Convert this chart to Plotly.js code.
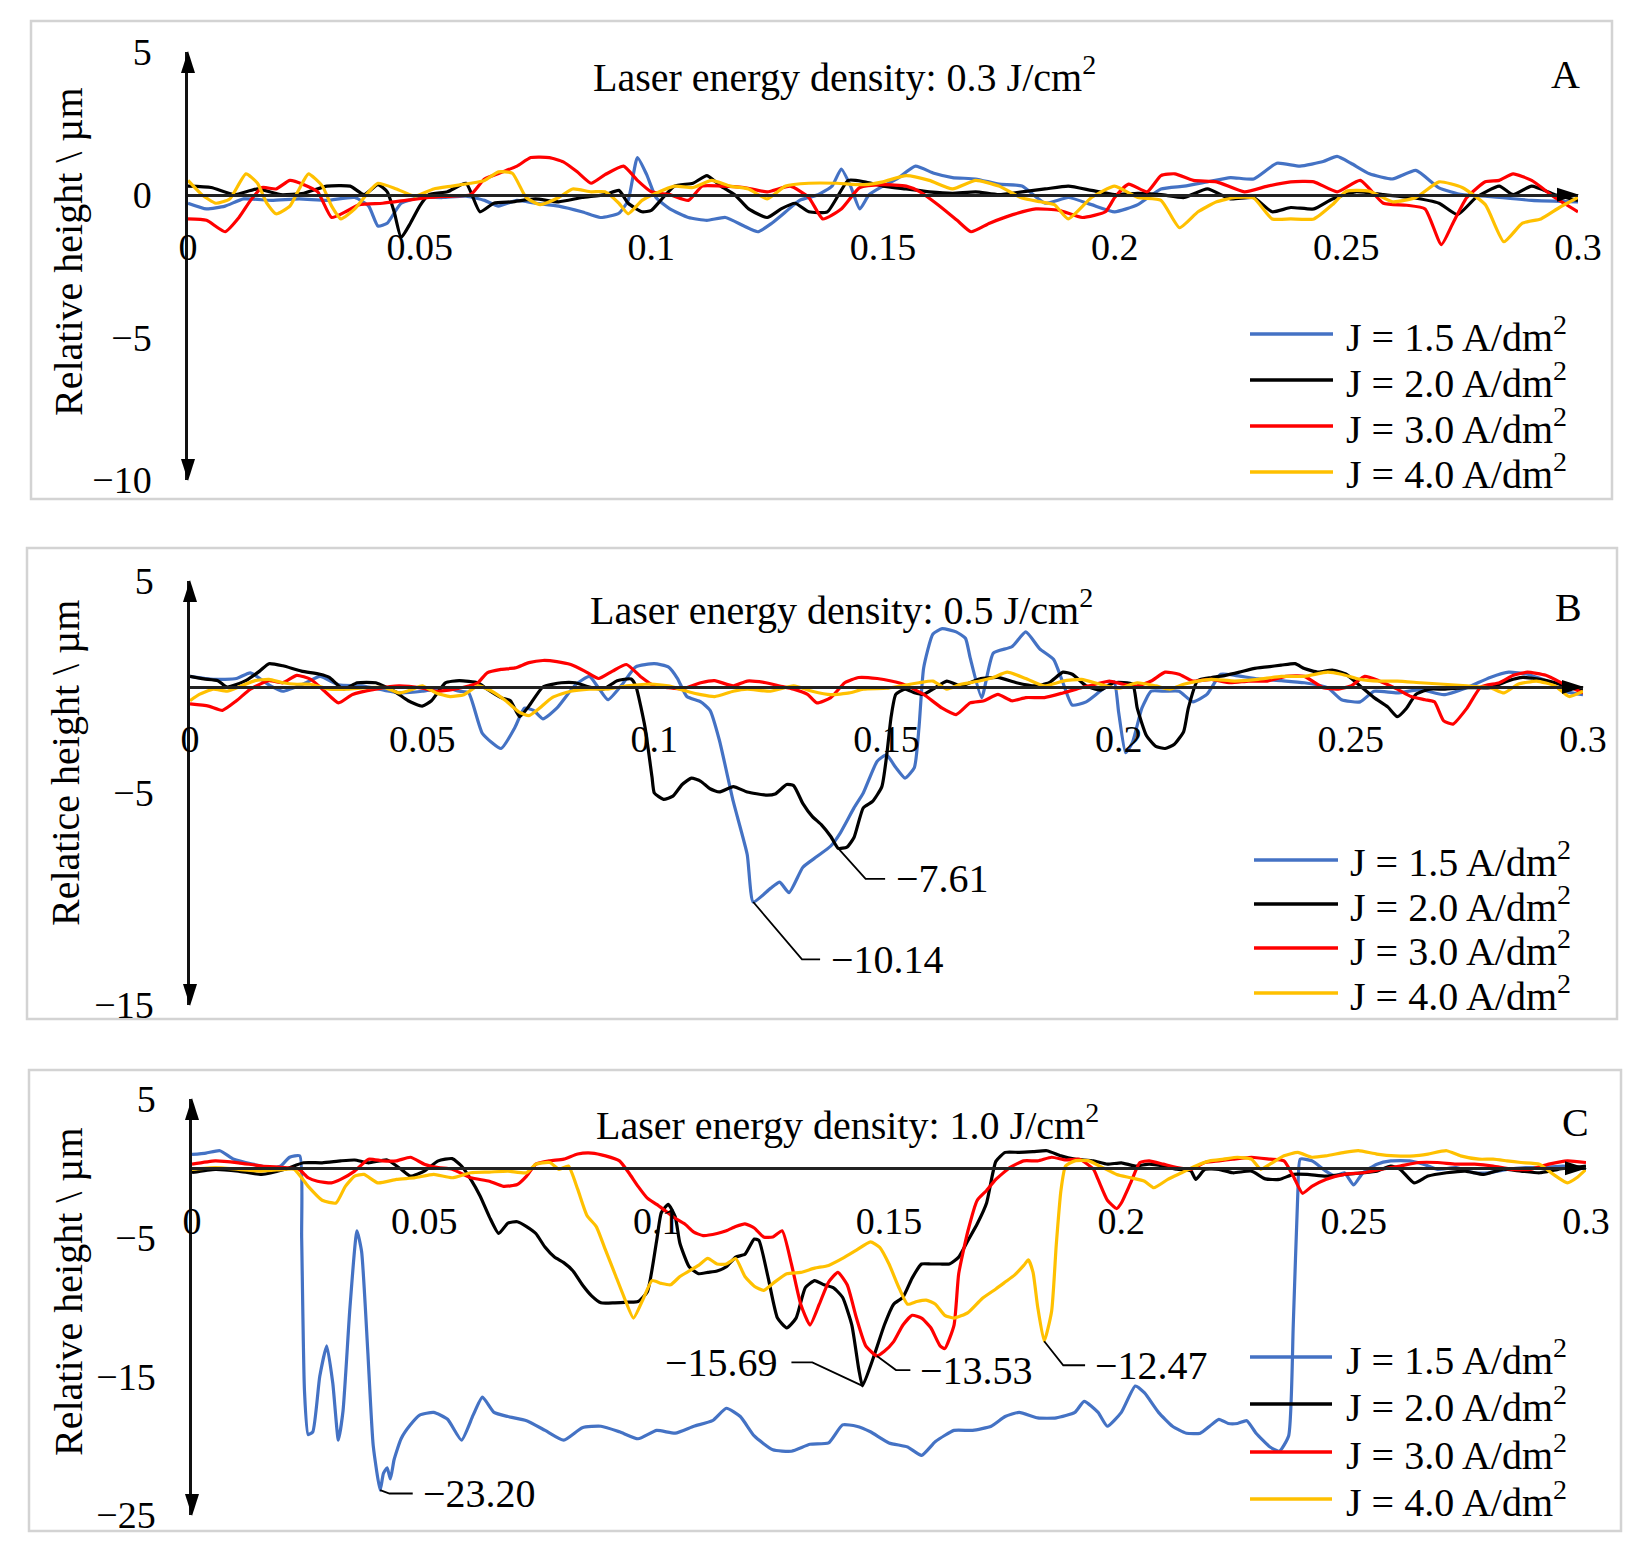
<!DOCTYPE html>
<html>
<head>
<meta charset="utf-8">
<script src="https://cdn.plot.ly/plotly-3.0.1.min.js"></script>
<style>html,body{margin:0;padding:0;background:#fff;}</style>
</head>
<body>
<div id="chart" style="width:1636px;height:1557px;"></div>
<script>
// ---------------- DATA (distance in mm, relative height in µm) ----------------
const seriesNames = ['J = 1.5 A/dm<sup>2</sup>','J = 2.0 A/dm<sup>2</sup>','J = 3.0 A/dm<sup>2</sup>','J = 4.0 A/dm<sup>2</sup>'];
const seriesColors = ['#4472C4','#000000','#FF0000','#FFC000'];
const panelTitles = ['Laser energy density: 0.3 J/cm<sup>2</sup>','Laser energy density: 0.5 J/cm<sup>2</sup>','Laser energy density: 1.0 J/cm<sup>2</sup>'];
const panelLetters = ['A','B','C'];
const yTitles = ['Relative height \\ µm','Relatice height \\ µm','Relative height \\ µm'];
const yRanges = [[-10,5],[-15,5],[-25,5]];
const yTickVals = [[5,0,-5,-10],[5,-5,-15],[5,-5,-15,-25]];
const xTickVals = [0,0.05,0.1,0.15,0.2,0.25,0.3];
const xTickText = ['0','0.05','0.1','0.15','0.2','0.25','0.3'];

// Panel A
const A15 = [[0,-0.3],[0.004,-0.5],[0.008,-0.4],[0.012,-0.15],[0.018,-0.2],[0.024,-0.15],[0.03,-0.2],[0.036,-0.1],[0.039,-0.4],[0.041,-1.1],[0.043,-1.0],[0.046,-0.3],[0.05,-0.1],[0.055,-0.1],[0.06,-0.05],[0.064,-0.2],[0.067,-0.4],[0.071,-0.2],[0.075,-0.3],[0.08,-0.4],[0.085,-0.6],[0.089,-0.8],[0.093,-0.65],[0.095,-0.2],[0.097,1.3],[0.099,0.7],[0.101,-0.1],[0.104,-0.5],[0.108,-0.8],[0.112,-0.9],[0.116,-0.8],[0.12,-1.1],[0.123,-1.3],[0.126,-1.0],[0.129,-0.6],[0.132,-0.2],[0.136,0.0],[0.139,0.3],[0.141,0.9],[0.143,0.3],[0.145,-0.5],[0.147,0.0],[0.15,0.3],[0.153,0.55],[0.157,1.0],[0.161,0.75],[0.165,0.6],[0.17,0.55],[0.175,0.37],[0.18,0.3],[0.185,-0.3],[0.19,-0.1],[0.195,-0.35],[0.2,-0.6],[0.205,-0.35],[0.21,0.2],[0.215,0.3],[0.22,0.45],[0.225,0.6],[0.23,0.55],[0.235,1.1],[0.24,1.0],[0.245,1.16],[0.248,1.34],[0.251,1.1],[0.255,0.73],[0.26,0.55],[0.265,0.85],[0.27,0.24],[0.275,0.0],[0.28,-0.05],[0.29,-0.2],[0.3,-0.25]];
const A20 = [[0,0.3],[0.005,0.25],[0.01,0.0],[0.015,0.2],[0.02,0.0],[0.025,0.05],[0.03,0.3],[0.035,0.3],[0.038,0.0],[0.041,0.35],[0.043,0.1],[0.0445,-0.6],[0.046,-1.5],[0.048,-1.0],[0.05,-0.4],[0.052,0.0],[0.056,0.1],[0.06,0.4],[0.063,-0.6],[0.066,-0.3],[0.07,-0.25],[0.075,-0.15],[0.08,-0.25],[0.085,-0.1],[0.09,0.0],[0.093,0.15],[0.095,-0.3],[0.098,-0.6],[0.1,-0.55],[0.102,-0.2],[0.105,0.3],[0.109,0.4],[0.112,0.67],[0.115,0.3],[0.118,0.0],[0.121,-0.5],[0.125,-0.8],[0.128,-0.5],[0.131,-0.3],[0.134,-0.6],[0.138,-0.6],[0.1425,0.5],[0.146,0.45],[0.15,0.3],[0.155,0.2],[0.16,0.1],[0.165,0.05],[0.17,0.1],[0.175,0.0],[0.18,0.1],[0.185,0.2],[0.19,0.3],[0.195,0.15],[0.2,0.0],[0.205,0.05],[0.21,0.0],[0.215,-0.1],[0.22,0.2],[0.225,-0.15],[0.23,-0.1],[0.234,-0.6],[0.238,-0.45],[0.243,-0.5],[0.247,-0.15],[0.252,0.1],[0.258,0.0],[0.264,-0.1],[0.27,-0.3],[0.274,-0.7],[0.278,-0.1],[0.283,0.3],[0.286,0.0],[0.29,0.3],[0.295,0.0],[0.3,-0.2]];
const A30 = [[0,-0.85],[0.004,-0.9],[0.008,-1.3],[0.011,-0.8],[0.0135,-0.2],[0.016,0.25],[0.019,0.2],[0.022,0.5],[0.025,0.35],[0.028,0.1],[0.031,-0.8],[0.034,-0.6],[0.037,-0.35],[0.042,-0.3],[0.047,-0.2],[0.052,-0.1],[0.057,-0.05],[0.061,0.0],[0.064,0.55],[0.068,0.8],[0.071,1.0],[0.074,1.3],[0.078,1.3],[0.081,1.15],[0.084,0.8],[0.087,0.4],[0.09,0.7],[0.094,1.0],[0.097,0.5],[0.1,0.1],[0.104,0.0],[0.108,-0.2],[0.111,0.3],[0.115,0.3],[0.12,0.25],[0.125,0.1],[0.13,0.3],[0.134,-0.1],[0.137,-0.85],[0.141,-0.5],[0.145,0.25],[0.15,0.35],[0.155,0.3],[0.158,0.1],[0.162,-0.37],[0.166,-0.9],[0.169,-1.3],[0.173,-1.0],[0.178,-0.7],[0.183,-0.5],[0.188,-0.55],[0.193,-0.8],[0.198,-0.6],[0.2,-0.1],[0.203,0.37],[0.207,0.1],[0.21,0.67],[0.213,0.73],[0.217,0.5],[0.222,0.45],[0.228,0.1],[0.233,0.3],[0.238,0.45],[0.243,0.45],[0.248,0.1],[0.253,0.5],[0.258,-0.3],[0.263,-0.37],[0.267,-0.5],[0.2705,-1.75],[0.273,-1.0],[0.276,-0.1],[0.28,0.45],[0.283,0.5],[0.286,0.73],[0.29,0.5],[0.295,-0.1],[0.3,-0.6]];
const A40 = [[0,0.5],[0.003,0.0],[0.006,-0.3],[0.009,-0.15],[0.0125,0.73],[0.015,0.4],[0.017,-0.3],[0.019,-0.67],[0.022,-0.4],[0.024,0.2],[0.026,0.73],[0.029,0.3],[0.031,-0.4],[0.033,-0.85],[0.036,-0.5],[0.039,0.1],[0.041,0.4],[0.045,0.2],[0.049,-0.05],[0.053,0.2],[0.057,0.3],[0.061,0.4],[0.064,0.5],[0.067,0.8],[0.07,0.75],[0.073,-0.1],[0.076,-0.35],[0.08,-0.1],[0.083,0.2],[0.087,0.1],[0.09,0.1],[0.093,-0.3],[0.095,-0.67],[0.098,-0.2],[0.101,0.05],[0.105,0.3],[0.109,0.25],[0.113,0.5],[0.117,0.3],[0.121,0.2],[0.125,-0.15],[0.129,0.3],[0.134,0.4],[0.14,0.4],[0.146,0.35],[0.15,0.45],[0.155,0.67],[0.16,0.5],[0.165,0.2],[0.17,0.5],[0.175,0.3],[0.18,-0.12],[0.184,-0.25],[0.187,-0.35],[0.19,-0.85],[0.195,-0.1],[0.2,0.3],[0.205,-0.1],[0.21,-0.2],[0.214,-1.16],[0.218,-0.6],[0.222,-0.25],[0.226,-0.1],[0.23,-0.12],[0.234,-0.85],[0.238,-0.85],[0.243,-0.85],[0.247,-0.35],[0.25,0.12],[0.255,0.12],[0.26,-0.25],[0.265,-0.1],[0.27,0.45],[0.275,0.25],[0.28,-0.35],[0.284,-1.65],[0.288,-1.0],[0.292,-0.85],[0.296,-0.45],[0.3,-0.1]];

// Panel B
const B15 = [[0,0.5],[0.005,0.36],[0.01,0.4],[0.013,0.67],[0.017,0.1],[0.02,-0.2],[0.025,0.2],[0.028,0.5],[0.032,0.1],[0.037,0.05],[0.045,-0.27],[0.05,-0.2],[0.055,-0.03],[0.058,-0.2],[0.06,-0.27],[0.063,-2.2],[0.067,-2.9],[0.07,-1.9],[0.072,-1.0],[0.074,-1.1],[0.076,-1.5],[0.079,-1.0],[0.083,0.1],[0.086,0.5],[0.088,-0.05],[0.09,-0.6],[0.093,0.1],[0.096,0.95],[0.1,1.1],[0.103,0.95],[0.105,0.4],[0.107,-0.45],[0.11,-0.7],[0.112,-1.1],[0.114,-2.5],[0.117,-5.4],[0.12,-7.9],[0.1213,-10.14],[0.125,-9.5],[0.127,-9.2],[0.129,-9.7],[0.132,-8.5],[0.135,-8.0],[0.138,-7.5],[0.14,-6.9],[0.143,-5.7],[0.145,-5.0],[0.148,-3.5],[0.15,-3.2],[0.152,-3.8],[0.154,-4.3],[0.156,-3.8],[0.157,-1.9],[0.158,0.9],[0.16,2.5],[0.162,2.75],[0.165,2.6],[0.167,2.3],[0.168,1.4],[0.1705,-0.5],[0.173,1.6],[0.177,1.9],[0.18,2.6],[0.183,1.8],[0.186,1.3],[0.188,0.2],[0.19,-0.85],[0.193,-0.7],[0.196,-0.2],[0.199,0.25],[0.2,-1.2],[0.2015,-3.1],[0.203,-2.6],[0.205,-1.0],[0.207,-0.2],[0.21,-0.2],[0.213,-0.2],[0.216,-0.7],[0.219,-0.35],[0.222,0.6],[0.225,0.55],[0.23,0.38],[0.235,0.3],[0.24,0.2],[0.245,-0.03],[0.248,-0.6],[0.252,-0.7],[0.255,-0.2],[0.26,-0.28],[0.265,-0.12],[0.27,-0.36],[0.275,-0.03],[0.28,0.45],[0.284,0.7],[0.288,0.6],[0.292,0.3],[0.296,-0.2],[0.3,-0.36]];
const B20 = [[0,0.5],[0.003,0.38],[0.006,0.3],[0.008,0.0],[0.012,0.3],[0.015,0.75],[0.017,1.1],[0.02,1.0],[0.024,0.75],[0.028,0.6],[0.03,0.45],[0.033,-0.1],[0.036,0.2],[0.04,0.2],[0.044,-0.2],[0.047,-0.65],[0.05,-0.9],[0.052,-0.65],[0.055,0.2],[0.058,0.3],[0.062,0.2],[0.064,-0.1],[0.067,-0.5],[0.069,-0.65],[0.071,-1.4],[0.073,-0.9],[0.076,0.0],[0.08,0.2],[0.083,0.2],[0.086,0.0],[0.089,-0.1],[0.092,0.3],[0.095,0.38],[0.096,0.05],[0.098,-1.9],[0.0995,-4.25],[0.1,-5.0],[0.102,-5.3],[0.104,-5.15],[0.106,-4.6],[0.108,-4.3],[0.11,-4.45],[0.112,-4.8],[0.114,-4.95],[0.117,-4.7],[0.12,-4.95],[0.124,-5.1],[0.126,-5.05],[0.1285,-4.6],[0.13,-4.65],[0.132,-5.5],[0.134,-6.1],[0.136,-6.5],[0.138,-7.05],[0.1396,-7.61],[0.1415,-7.55],[0.143,-7.1],[0.145,-5.7],[0.147,-5.4],[0.149,-4.7],[0.15,-3.3],[0.151,-1.4],[0.152,-0.35],[0.154,-0.1],[0.156,-0.27],[0.158,-0.35],[0.16,-0.1],[0.163,0.28],[0.166,0.05],[0.17,0.38],[0.174,0.45],[0.178,0.2],[0.182,0.05],[0.185,0.2],[0.188,0.7],[0.19,0.6],[0.193,0.05],[0.196,-0.15],[0.199,0.2],[0.203,0.13],[0.204,-1.0],[0.206,-2.3],[0.208,-2.8],[0.21,-2.9],[0.212,-2.7],[0.214,-2.1],[0.215,-1.0],[0.217,0.3],[0.22,0.45],[0.223,0.55],[0.226,0.7],[0.229,0.87],[0.232,0.95],[0.235,1.03],[0.238,1.1],[0.24,0.87],[0.243,0.7],[0.246,0.8],[0.249,0.6],[0.252,0.05],[0.255,-0.5],[0.258,-0.95],[0.26,-1.4],[0.262,-1.0],[0.264,-0.35],[0.267,-0.1],[0.27,-0.1],[0.275,-0.03],[0.28,-0.03],[0.284,0.3],[0.287,0.45],[0.29,0.38],[0.294,0.2],[0.297,-0.03],[0.3,-0.1]];
const B30 = [[0,-0.8],[0.004,-0.9],[0.007,-1.1],[0.01,-0.65],[0.013,-0.1],[0.017,0.3],[0.02,0.2],[0.023,0.55],[0.026,0.36],[0.029,-0.2],[0.032,-0.75],[0.035,-0.35],[0.04,-0.1],[0.045,0.05],[0.05,-0.06],[0.053,-0.2],[0.057,-0.1],[0.06,0.05],[0.062,0.2],[0.064,0.67],[0.067,0.83],[0.07,0.9],[0.073,1.15],[0.076,1.25],[0.079,1.2],[0.082,1.06],[0.085,0.75],[0.088,0.4],[0.091,0.75],[0.094,1.06],[0.097,0.5],[0.1,0.05],[0.103,-0.03],[0.106,-0.1],[0.11,0.2],[0.113,0.3],[0.117,0.05],[0.12,0.28],[0.124,0.2],[0.127,0.05],[0.13,-0.1],[0.133,-0.35],[0.135,-0.75],[0.138,-0.5],[0.141,0.2],[0.144,0.45],[0.148,0.4],[0.151,0.28],[0.154,0.1],[0.158,-0.35],[0.162,-1.0],[0.165,-1.3],[0.168,-0.75],[0.171,-0.65],[0.174,-0.35],[0.177,-0.65],[0.18,-0.5],[0.184,-0.5],[0.188,-0.28],[0.192,-0.03],[0.195,0.13],[0.198,0.28],[0.201,0.13],[0.204,0.05],[0.207,0.28],[0.21,0.7],[0.213,0.6],[0.216,0.28],[0.22,0.36],[0.224,0.2],[0.228,0.28],[0.232,0.28],[0.236,0.5],[0.24,0.5],[0.244,-0.03],[0.247,-0.1],[0.25,0.05],[0.253,0.5],[0.256,0.3],[0.26,-0.1],[0.263,-0.45],[0.266,-0.6],[0.268,-0.7],[0.27,-1.6],[0.272,-1.75],[0.275,-1.0],[0.278,0.0],[0.282,0.2],[0.285,0.55],[0.288,0.7],[0.292,0.55],[0.296,0.13],[0.3,-0.28]];
const B40 = [[0,-0.65],[0.002,-0.35],[0.005,-0.1],[0.008,-0.2],[0.011,0.05],[0.014,0.3],[0.017,0.36],[0.02,0.2],[0.023,0.13],[0.026,0.13],[0.03,-0.1],[0.034,-0.1],[0.038,-0.03],[0.042,-0.03],[0.045,-0.28],[0.048,-0.1],[0.05,0.05],[0.053,-0.28],[0.056,-0.45],[0.059,-0.36],[0.062,0.05],[0.065,-0.2],[0.068,-0.65],[0.071,-1.2],[0.073,-1.35],[0.075,-1.05],[0.078,-0.5],[0.082,-0.2],[0.086,-0.1],[0.09,-0.1],[0.094,0.05],[0.098,0.13],[0.1,0.13],[0.103,0.05],[0.107,-0.2],[0.11,-0.36],[0.113,-0.45],[0.117,-0.2],[0.12,-0.1],[0.125,-0.2],[0.13,0.05],[0.134,-0.2],[0.138,-0.36],[0.142,-0.28],[0.145,-0.1],[0.15,-0.06],[0.153,0.05],[0.157,0.2],[0.16,0.28],[0.163,-0.1],[0.166,0.13],[0.17,0.28],[0.173,0.45],[0.176,0.7],[0.18,0.4],[0.184,0.05],[0.188,0.28],[0.192,0.36],[0.196,0.13],[0.2,-0.06],[0.204,0.2],[0.208,0.05],[0.211,-0.1],[0.214,0.13],[0.217,0.28],[0.22,0.36],[0.225,0.28],[0.23,0.36],[0.235,0.5],[0.24,0.5],[0.245,0.7],[0.248,0.6],[0.252,0.36],[0.256,0.28],[0.26,0.28],[0.265,0.2],[0.27,0.13],[0.275,0.05],[0.28,-0.03],[0.283,-0.28],[0.286,0.13],[0.29,0.28],[0.294,0.05],[0.297,-0.45],[0.3,-0.2]];

// Panel C
const C15 = [[0,1.0],[0.003,1.1],[0.006,1.27],[0.009,0.65],[0.013,0.3],[0.017,0.05],[0.019,0.15],[0.021,0.8],[0.0232,0.9],[0.0236,-5.0],[0.0242,-16.0],[0.025,-19.2],[0.026,-19.0],[0.0275,-15.0],[0.029,-12.8],[0.0303,-15.5],[0.0315,-19.6],[0.0325,-17.5],[0.034,-10.0],[0.0355,-4.5],[0.0365,-6.0],[0.0378,-13.0],[0.039,-20.0],[0.0405,-23.2],[0.0412,-22.0],[0.042,-21.6],[0.0427,-22.4],[0.0435,-21.0],[0.045,-19.5],[0.047,-18.5],[0.049,-17.8],[0.052,-17.6],[0.055,-18.1],[0.058,-19.6],[0.0605,-17.8],[0.0625,-16.5],[0.065,-17.6],[0.068,-17.9],[0.072,-18.2],[0.076,-18.9],[0.08,-19.6],[0.084,-18.7],[0.088,-18.6],[0.092,-19.0],[0.096,-19.5],[0.1,-18.9],[0.104,-19.1],[0.108,-18.6],[0.112,-18.2],[0.115,-17.3],[0.118,-17.9],[0.121,-19.3],[0.125,-20.3],[0.129,-20.4],[0.133,-19.9],[0.137,-19.8],[0.14,-18.5],[0.143,-18.6],[0.146,-19.0],[0.15,-19.8],[0.154,-20.1],[0.157,-20.7],[0.16,-19.7],[0.164,-18.9],[0.168,-18.9],[0.172,-18.6],[0.175,-17.9],[0.178,-17.6],[0.182,-18.0],[0.186,-18.0],[0.19,-17.6],[0.192,-16.8],[0.195,-17.6],[0.197,-18.6],[0.2,-17.6],[0.203,-15.7],[0.205,-16.2],[0.208,-17.6],[0.211,-18.6],[0.214,-19.1],[0.217,-19.1],[0.219,-18.6],[0.221,-18.1],[0.223,-18.4],[0.225,-18.4],[0.227,-18.2],[0.229,-19.1],[0.232,-20.1],[0.234,-20.4],[0.236,-19.3],[0.237,-11.3],[0.238,-1.6],[0.2385,0.66],[0.241,0.54],[0.244,-0.2],[0.246,-0.56],[0.248,-0.32],[0.25,-1.2],[0.252,-0.32],[0.255,0.3],[0.258,0.54],[0.262,0.54],[0.265,0.3],[0.268,-0.07],[0.272,0.05],[0.276,-0.32],[0.279,-0.32],[0.283,-0.07],[0.287,0.05],[0.291,0.05],[0.295,0.17],[0.3,0.05]];
const C20 = [[0,-0.3],[0.005,-0.07],[0.01,-0.2],[0.015,-0.44],[0.02,-0.07],[0.024,0.4],[0.028,0.4],[0.032,0.54],[0.035,0.6],[0.038,0.4],[0.042,0.6],[0.045,-0.07],[0.047,-0.56],[0.05,-0.2],[0.053,0.54],[0.056,0.7],[0.058,0.17],[0.06,-0.8],[0.062,-2.0],[0.064,-3.5],[0.066,-4.7],[0.068,-3.95],[0.07,-3.85],[0.072,-4.2],[0.074,-4.7],[0.076,-5.7],[0.078,-6.4],[0.08,-6.8],[0.082,-7.4],[0.084,-8.4],[0.086,-9.2],[0.088,-9.7],[0.091,-9.7],[0.094,-9.65],[0.096,-9.6],[0.098,-8.9],[0.1,-5.2],[0.101,-3.2],[0.1025,-2.6],[0.104,-3.5],[0.105,-5.4],[0.107,-7.1],[0.109,-7.6],[0.111,-7.5],[0.113,-7.4],[0.115,-7.1],[0.117,-6.4],[0.119,-6.2],[0.121,-5.1],[0.122,-5.2],[0.124,-7.9],[0.126,-10.8],[0.128,-11.5],[0.13,-10.8],[0.132,-8.6],[0.134,-8.1],[0.136,-8.4],[0.138,-8.6],[0.14,-9.3],[0.142,-11.3],[0.1435,-14.5],[0.1443,-15.69],[0.147,-13.3],[0.149,-11.3],[0.151,-9.8],[0.153,-9.3],[0.155,-7.9],[0.157,-6.9],[0.159,-6.9],[0.161,-6.9],[0.163,-6.9],[0.165,-6.4],[0.167,-5.2],[0.169,-4.0],[0.171,-2.5],[0.173,0.5],[0.175,1.15],[0.178,1.15],[0.181,1.2],[0.184,1.27],[0.187,0.9],[0.19,0.66],[0.194,0.54],[0.197,0.3],[0.2,0.4],[0.203,0.17],[0.206,0.3],[0.209,0.17],[0.212,-0.07],[0.215,-0.2],[0.216,-0.8],[0.218,-0.07],[0.221,-0.07],[0.224,-0.32],[0.228,-0.2],[0.231,-0.76],[0.234,-0.8],[0.237,-0.44],[0.24,-0.44],[0.244,-0.56],[0.248,-0.44],[0.252,-0.32],[0.255,-0.2],[0.258,0.17],[0.26,-0.07],[0.263,-1.05],[0.266,-0.56],[0.27,-0.32],[0.274,-0.2],[0.278,-0.44],[0.282,-0.07],[0.286,-0.2],[0.29,-0.32],[0.294,-0.07],[0.3,0.17]];
const C30 = [[0,0.3],[0.005,0.54],[0.01,0.4],[0.015,0.17],[0.02,0.05],[0.023,-0.07],[0.025,-0.68],[0.027,-0.93],[0.03,-1.05],[0.032,-0.8],[0.035,-0.2],[0.038,0.66],[0.041,0.54],[0.044,0.54],[0.047,0.8],[0.05,0.3],[0.053,0.05],[0.056,-0.07],[0.06,-0.68],[0.064,-0.93],[0.067,-1.3],[0.07,-1.17],[0.072,-0.56],[0.074,0.3],[0.077,0.54],[0.08,0.66],[0.083,1.03],[0.086,1.1],[0.089,0.9],[0.092,0.54],[0.094,-0.32],[0.096,-1.3],[0.098,-2.15],[0.1,-2.6],[0.102,-3.1],[0.104,-3.6],[0.106,-4.0],[0.108,-4.6],[0.11,-4.85],[0.113,-4.7],[0.115,-4.5],[0.117,-4.2],[0.119,-4.0],[0.121,-4.3],[0.123,-4.95],[0.125,-4.95],[0.127,-4.5],[0.129,-6.9],[0.131,-9.8],[0.133,-11.3],[0.135,-9.8],[0.137,-8.2],[0.139,-7.5],[0.141,-8.4],[0.143,-10.8],[0.145,-12.8],[0.1474,-13.53],[0.149,-13.2],[0.151,-12.5],[0.153,-11.3],[0.155,-10.6],[0.157,-10.8],[0.159,-11.5],[0.161,-12.8],[0.162,-13.0],[0.164,-11.3],[0.165,-7.6],[0.167,-4.5],[0.169,-2.3],[0.171,-1.6],[0.173,-0.8],[0.176,0.05],[0.179,0.54],[0.182,0.54],[0.185,0.8],[0.188,0.6],[0.191,0.66],[0.194,-0.07],[0.195,-0.8],[0.197,-2.3],[0.199,-2.9],[0.2,-2.5],[0.202,-1.05],[0.204,0.42],[0.206,0.54],[0.209,0.3],[0.212,0.05],[0.215,-0.07],[0.218,0.42],[0.221,0.54],[0.224,0.66],[0.228,0.8],[0.232,0.66],[0.235,0.54],[0.237,-0.56],[0.239,-1.8],[0.241,-1.3],[0.244,-0.8],[0.248,-0.44],[0.252,-0.32],[0.256,-0.07],[0.26,0.17],[0.264,0.42],[0.268,0.42],[0.272,0.3],[0.276,0.3],[0.28,0.17],[0.284,-0.07],[0.288,-0.07],[0.292,0.3],[0.296,0.54],[0.3,0.42]];
const C40 = [[0,-0.07],[0.005,0.05],[0.01,-0.07],[0.015,-0.2],[0.02,-0.07],[0.022,-0.07],[0.025,-1.3],[0.028,-2.3],[0.031,-2.5],[0.033,-1.3],[0.035,-0.56],[0.037,-0.44],[0.04,-1.05],[0.044,-0.8],[0.048,-0.68],[0.052,-0.44],[0.056,-0.68],[0.06,-0.32],[0.064,-0.27],[0.068,-0.2],[0.072,-0.32],[0.074,0.3],[0.077,0.42],[0.079,-0.07],[0.081,0.17],[0.083,-1.5],[0.085,-3.4],[0.087,-4.2],[0.089,-5.9],[0.091,-7.6],[0.093,-9.3],[0.095,-10.8],[0.097,-9.5],[0.099,-8.1],[0.101,-8.3],[0.103,-8.4],[0.105,-7.8],[0.107,-7.4],[0.109,-7.0],[0.111,-6.5],[0.113,-6.9],[0.115,-6.9],[0.117,-6.5],[0.119,-7.8],[0.121,-8.5],[0.123,-8.8],[0.125,-8.3],[0.128,-7.6],[0.131,-7.5],[0.134,-7.2],[0.137,-7.0],[0.14,-6.5],[0.143,-5.9],[0.146,-5.3],[0.148,-5.7],[0.15,-6.9],[0.152,-8.5],[0.154,-9.8],[0.156,-9.6],[0.158,-9.5],[0.16,-9.8],[0.162,-10.6],[0.164,-10.8],[0.167,-10.4],[0.17,-9.4],[0.173,-8.7],[0.175,-8.2],[0.177,-7.7],[0.179,-7.0],[0.18,-6.6],[0.181,-7.5],[0.182,-10.0],[0.1834,-12.47],[0.185,-10.3],[0.186,-5.5],[0.187,-1.6],[0.188,0.17],[0.19,0.54],[0.193,0.54],[0.196,0.05],[0.199,-0.44],[0.202,-0.68],[0.205,-0.93],[0.207,-1.4],[0.21,-0.8],[0.213,-0.32],[0.216,0.17],[0.219,0.54],[0.222,0.66],[0.225,0.8],[0.228,0.66],[0.23,-0.07],[0.232,0.3],[0.235,0.9],[0.238,1.15],[0.241,0.8],[0.244,0.9],[0.248,1.15],[0.251,1.27],[0.255,1.03],[0.259,0.9],[0.263,0.9],[0.266,1.03],[0.27,1.27],[0.273,0.9],[0.277,0.66],[0.28,0.66],[0.283,0.54],[0.286,0.42],[0.29,0.3],[0.293,-0.44],[0.296,-1.05],[0.298,-0.68],[0.3,-0.07]];

const panelSeries = [[A15,A20,A30,A40],[B15,B20,B30,B40],[C15,C20,C30,C40]];

// Peak value labels (text only; placement is layout below)
const peakLabelsB = ['\u22127.61','\u221210.14'];
const peakLabelsC = ['\u221215.69','\u221213.53','\u221212.47','\u221223.20'];

// ---------------- LAYOUT / STYLE ----------------
const W = 1636, H = 1557;
const fx = px => px / W;
const fy = py => 1 - py / H;
const FONT = '"Liberation Serif", "Times New Roman", Times, serif';

const geo = [
  {xl:188, xr:1578, yt:52, yb:480, frame:[31,21,1612,499], title:[845,75], letter:[1565,75], ytitle:[68,252], legX:[1250,1333,1344], legY:[334,380,426,472]},
  {xl:190, xr:1583, yt:581, yb:1005, frame:[27,548,1617,1019], title:[841,608], letter:[1568,608], ytitle:[65,763], legX:[1254,1338,1348], legY:[860,904,948,993]},
  {xl:192, xr:1586, yt:1099, yb:1515, frame:[29,1070,1621,1531], title:[847,1122], letter:[1575,1122], ytitle:[68,1292], legX:[1250,1332,1344], legY:[1357,1404,1452,1499]}
];

const traces = [];
const layout = {
  width: W, height: H,
  margin: {l:0, r:0, t:0, b:0},
  paper_bgcolor: '#ffffff',
  plot_bgcolor: 'rgba(0,0,0,0)',
  showlegend: false,
  font: {family: FONT, color: '#000', size: 38},
  shapes: [], annotations: []
};

panelSeries.forEach((series, p) => {
  const g = geo[p];
  const xa = 'x' + (p ? p + 1 : '');
  const ya = 'y' + (p ? p + 1 : '');
  const [ymin, ymax] = yRanges[p];
  const zeroPx = g.yt + (ymax / (ymax - ymin)) * (g.yb - g.yt);

  series.forEach((pts, s) => {
    traces.push({
      x: pts.map(d => d[0]), y: pts.map(d => d[1]),
      xaxis: xa, yaxis: ya, type: 'scatter', mode: 'lines',
      name: seriesNames[s],
      line: {color: seriesColors[s], width: 3.2, shape: 'spline', smoothing: 0.5},
      hoverinfo: 'skip'
    });
  });

  layout['xaxis' + (p ? p + 1 : '')] = {
    domain: [fx(g.xl), fx(g.xr)], range: [0, 0.3],
    anchor: 'free', position: fy(zeroPx),
    showline: true, linecolor: '#222', linewidth: 2.5,
    ticks: '', tickvals: xTickVals, ticktext: xTickText,
    tickfont: {family: FONT, size: 38, color: '#000'},
    ticklabelstandoff: 18,
    showgrid: false, zeroline: false, fixedrange: true
  };
  layout['yaxis' + (p ? p + 1 : '')] = {
    domain: [fy(g.yb), fy(g.yt)], range: [ymin, ymax],
    anchor: xa, showline: true, linecolor: '#111', linewidth: 2.5,
    ticks: '', tickvals: yTickVals[p],
    tickfont: {family: FONT, size: 38, color: '#000'},
    ticklabelstandoff: 26,
    showgrid: false, zeroline: false, fixedrange: true
  };

  // frame
  layout.shapes.push({type:'rect', xref:'paper', yref:'paper', x0:fx(g.frame[0]), x1:fx(g.frame[2]), y0:fy(g.frame[3]), y1:fy(g.frame[1]), line:{color:'#d3d3d3', width:2.5}, layer:'below'});

  // arrow heads (pixel-sized, anchored in paper space so they are not clipped)
  const head = (ax, ay, path) => layout.shapes.push({type:'path', xref:'paper', yref:'paper', xsizemode:'pixel', ysizemode:'pixel', xanchor:ax, yanchor:ay, path:path, fillcolor:'#000', line:{width:0}});
  head(fx(g.xr), fy(zeroPx), 'M1,0 L-21,7 L-21,-7 Z');
  head(fx(g.xl), fy(g.yt), 'M0,1 L-7,-21 L7,-21 Z');
  head(fx(g.xl), fy(g.yb), 'M0,-1 L-7,21 L7,21 Z');

  // title, letter, y title
  layout.annotations.push({xref:'paper', yref:'paper', x:fx(g.title[0]), y:fy(g.title[1]), text:panelTitles[p], showarrow:false, xanchor:'center', yanchor:'middle', font:{family:FONT, size:40, color:'#000'}});
  layout.annotations.push({xref:'paper', yref:'paper', x:fx(g.letter[0]), y:fy(g.letter[1]), text:panelLetters[p], showarrow:false, xanchor:'center', yanchor:'middle', font:{family:FONT, size:40, color:'#000'}});
  layout.annotations.push({xref:'paper', yref:'paper', x:fx(g.ytitle[0]), y:fy(g.ytitle[1]), text:yTitles[p], textangle:-90, showarrow:false, xanchor:'center', yanchor:'middle', font:{family:FONT, size:40, color:'#000'}});

  // legend (manual, long line samples)
  seriesNames.forEach((nm, s) => {
    layout.shapes.push({type:'line', xref:'paper', yref:'paper', x0:fx(g.legX[0]), x1:fx(g.legX[1]), y0:fy(g.legY[s]), y1:fy(g.legY[s]), line:{color:seriesColors[s], width:3.5}});
    layout.annotations.push({xref:'paper', yref:'paper', x:fx(g.legX[2]), y:fy(g.legY[s]), text:nm, showarrow:false, xanchor:'left', yanchor:'middle', font:{family:FONT, size:40, color:'#000'}});
  });
});

// leader lines + labels for marked minima
function leader(xa, ya, path, text, tx, ty, anchor) {
  layout.shapes.push({type:'path', xref:xa, yref:ya, path:path, line:{color:'#000', width:1.8}});
  layout.annotations.push({xref:xa, yref:ya, x:tx, y:ty, text:text, showarrow:false, xanchor:anchor, yanchor:'middle', font:{family:FONT, size:40, color:'#000'}});
}
leader('x2','y2','M0.1396,-7.61 L0.1455,-9.05 L0.1497,-9.05', peakLabelsB[0], 0.1517, -9.05, 'left');
leader('x2','y2','M0.1213,-10.14 L0.1318,-12.85 L0.1357,-12.85', peakLabelsB[1], 0.1377, -12.85, 'left');
leader('x3','y3','M0.1290,-14.0 L0.1335,-14.0 L0.1443,-15.69', peakLabelsC[0], 0.1265, -14.0, 'right');
leader('x3','y3','M0.1474,-13.53 L0.1515,-14.55 L0.1546,-14.55', peakLabelsC[1], 0.1562, -14.55, 'left');
leader('x3','y3','M0.1834,-12.47 L0.1875,-14.2 L0.1922,-14.2', peakLabelsC[2], 0.1940, -14.2, 'left');
leader('x3','y3','M0.0405,-23.2 L0.0425,-23.45 L0.0475,-23.45', peakLabelsC[3], 0.0492, -23.45, 'left');

Plotly.newPlot('chart', traces, layout, {displayModeBar:false});
</script>
</body>
</html>
